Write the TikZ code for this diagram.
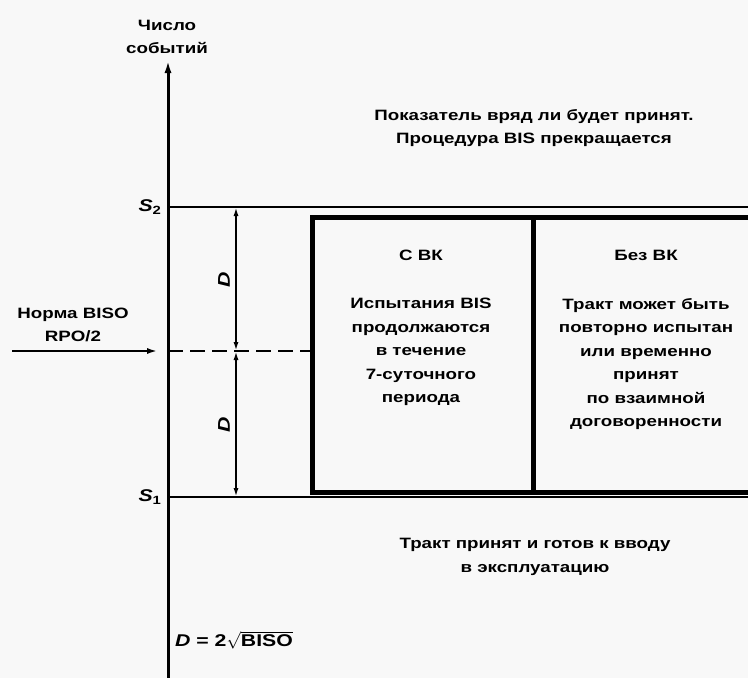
\documentclass[tikz,border=0pt]{standalone}
\usepackage{fontspec}
\setmainfont{Liberation Sans}[FakeStretch=1.25]
\usetikzlibrary{arrows.meta}
\definecolor{bg}{HTML}{F8F8F8}
\begin{document}
\begin{tikzpicture}[x=1pt,y=-1pt,
  txt/.style={font=\bfseries\fontsize{15}{23.5}\selectfont, align=center, inner sep=0pt},
  big/.style={font=\bfseries\fontsize{17}{20}\selectfont, inner sep=0pt},
  axisline/.style={line width=3pt},
  level/.style={line width=2.5pt},
  boxline/.style={line width=5pt},
  dimline/.style={line width=2.5pt, {Latex[length=9pt,width=5pt]}-{Latex[length=9pt,width=5pt]}},
]
\clip (0,0) rectangle (748,678);
\fill[bg] (0,0) rectangle (748,678);
% axis
\coordinate (ax0) at (168,690);
\coordinate (axtop) at (168,60);
\node[txt] (ylab) at (167,37) {Число\\событий};
\draw[axisline,-{Latex[length=13pt,width=7pt]}] (ax0) -- (axtop);
% levels
\coordinate (s2a) at (168,207);
\coordinate (s2b) at (760,207);
\coordinate (s1a) at (168,497);
\coordinate (s1b) at (760,497);
\draw[level] (s2a) -- (s2b);
\draw[level] (s1a) -- (s1b);
\node[big] (s2) at (150,207) {\textit{S}\textsubscript{2}};
\node[big] (s1) at (150,497) {\textit{S}\textsubscript{1}};
% box
\node[draw, boxline, inner sep=0pt, minimum width=450pt, minimum height=275pt, anchor=north west] (box) at (310,215) {};
\draw[boxline] ([xshift=223pt]box.north west) -- ([xshift=223pt]box.south west);
% middle dashed line
\coordinate (m0) at (168,351);
\draw[level, dash pattern=on 15pt off 7pt] (m0) -- (m0 -| box.west);
% norm arrow
\node[txt] (norm) at (73,325) {Норма BISO\\RPO/2};
\coordinate (n0) at (12,351);
\coordinate (n1) at (158,351);
\draw[level,-{Latex[length=11pt,width=6pt]}] (n0) -- (n1);
% D dimensions
\coordinate (d2) at (236,207);
\coordinate (dm) at (236,351);
\coordinate (d1) at (236,497);
\draw[dimline] (d2) -- (dm);
\draw[dimline] (dm) -- (d1);
\node[big, rotate=90] (dl2) at (224,280) {\textit{D}};
\node[big, rotate=90] (dl1) at (224,425) {\textit{D}};
% texts
\node[txt] (top) at (534,128) {Показатель вряд ли будет принят.\\Процедура BIS прекращается};
\node[txt] (cbk) at (421,255) {С ВК};
\node[txt, anchor=north] (cbody) at (421,298) {Испытания BIS\\продолжаются\\в течение\\7-суточного\\периода};
\node[txt] (bbk) at (646,255) {Без ВК};
\node[txt, anchor=north] (bbody) at (646,298) {Тракт может быть\\повторно испытан\\или временно\\принят\\по взаимной\\договоренности};
\node[txt] (bot) at (535,557) {Тракт принят и готов к вводу\\в эксплуатацию};
\node[big, anchor=west] (form) at (175,640) {\textit{D} = 2$\sqrt{\mbox{BISO}}$};
\end{tikzpicture}
\end{document}
